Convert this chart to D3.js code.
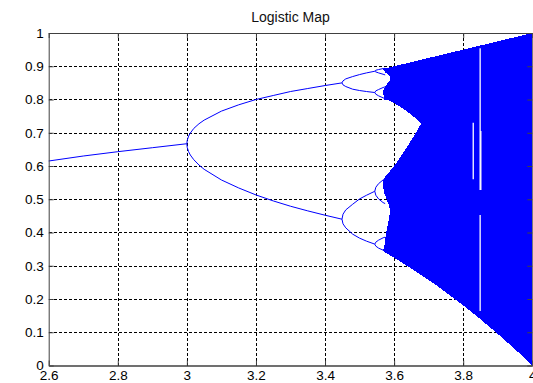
<!DOCTYPE html>
<html><head><meta charset="utf-8">
<script src="https://cdn.jsdelivr.net/npm/d3@7"></script>
<style>
html,body{margin:0;padding:0;background:#fff;}
svg{display:block;font-family:"Liberation Sans",Arial,Helvetica,sans-serif;}
</style></head><body>
<svg id="chart" width="533" height="383"></svg>
<script>
// Tick values
const xTicks = [2.6, 2.8, 3, 3.2, 3.4, 3.6, 3.8, 4];
const yTicks = [0, 0.1, 0.2, 0.3, 0.4, 0.5, 0.6, 0.7, 0.8, 0.9, 1];

// Fixed point branch (r, x)
const r1 = [2.6, 2.7, 2.8, 2.9, 3.0];
const x1 = [0.615, 0.630, 0.643, 0.655, 0.667];

// Period-2 branches
const r2 = [3.0, 3.001, 3.005, 3.01, 3.02, 3.035, 3.05, 3.1, 3.15, 3.2, 3.25, 3.3, 3.35, 3.4, 3.449];
const x2hi = [0.667, 0.677, 0.690, 0.699, 0.713, 0.727, 0.738, 0.765, 0.784, 0.800, 0.812, 0.824, 0.833, 0.842, 0.850];
const x2lo = [0.667, 0.656, 0.643, 0.633, 0.619, 0.603, 0.590, 0.558, 0.534, 0.513, 0.495, 0.479, 0.465, 0.452, 0.440];

// Period-4 branches
const r4 = [3.449, 3.452, 3.46, 3.48, 3.5, 3.52, 3.544];
const x4a = [0.850, 0.856, 0.862, 0.869, 0.875, 0.880, 0.885];
const x4b = [0.850, 0.844, 0.839, 0.831, 0.827, 0.824, 0.821];
const x4c = [0.440, 0.455, 0.468, 0.485, 0.501, 0.512, 0.524];
const x4d = [0.440, 0.426, 0.414, 0.395, 0.383, 0.374, 0.365];

// Period-8 branches
const r8 = [3.544, 3.547, 3.555, 3.568, 3.574];
const x8a = [0.885, 0.888, 0.890, 0.893, 0.894];
const x8b = [0.885, 0.883, 0.880, 0.876, 0.874];
const x8c = [0.821, 0.826, 0.830, 0.836, 0.838];
const x8d = [0.821, 0.816, 0.811, 0.805, 0.803];
const x8e = [0.524, 0.536, 0.547, 0.558, 0.561];
const x8f = [0.524, 0.512, 0.501, 0.490, 0.487];
const x8g = [0.365, 0.371, 0.377, 0.384, 0.386];
const x8h = [0.365, 0.359, 0.353, 0.347, 0.345];

// Chaotic region outline, traced in order
const chaosTop = [[3.567, 0.892], [3.6, 0.900], [3.7, 0.925], [3.8, 0.950], [3.9, 0.975], [4.0, 1.0]];
const chaosBottom = [[4.0, 0.0], [3.975, 0.025], [3.95, 0.049], [3.925, 0.072], [3.9, 0.095], [3.875, 0.117],
  [3.85, 0.139], [3.825, 0.160], [3.8, 0.181], [3.775, 0.200], [3.75, 0.220], [3.725, 0.239], [3.7, 0.257],
  [3.675, 0.274], [3.65, 0.291], [3.625, 0.308], [3.6, 0.324], [3.57, 0.343]];
const lowerBandLeft = [[3.568, 0.344], [3.572, 0.360], [3.574, 0.380], [3.577, 0.400], [3.583, 0.430],
  [3.588, 0.460], [3.586, 0.480], [3.578, 0.500], [3.571, 0.520], [3.567, 0.545], [3.570, 0.562]];
const bandGap = [[3.58, 0.575], [3.6, 0.600], [3.625, 0.637], [3.65, 0.678], [3.665, 0.704], [3.6786, 0.728],
  [3.665, 0.741], [3.65, 0.754], [3.625, 0.773], [3.6, 0.789], [3.58, 0.799]];
const upperBandLeft = [[3.572, 0.800], [3.569, 0.815], [3.569, 0.828], [3.578, 0.845], [3.589, 0.858],
  [3.587, 0.870], [3.574, 0.882], [3.567, 0.892]];

// Periodic windows inside the chaotic region
const windowR = [3.829, 3.849, 3.849, 3.851];
const windowTop = [0.730, 0.954, 0.453, 0.705];
const windowBottom = [0.560, 0.528, 0.164, 0.528];
const windowWidth = [1.3, 1.3, 1.3, 1.3];

const svg = d3.select("#chart");
const x = d3.scaleLinear().domain([2.6, 4]).range([48.7, 532.3]);
const y = d3.scaleLinear().domain([0, 1]).range([365.5, 33]);

// Title
svg.append("text")
  .attr("x", (x.range()[0] + x.range()[1]) / 2)
  .attr("y", 22)
  .attr("text-anchor", "middle")
  .attr("font-size", "14px")
  .attr("fill", "#111")
  .text("Logistic Map");

// Grid
const grid = svg.append("g")
  .attr("stroke", "#000")
  .attr("stroke-width", 1)
  .attr("stroke-dasharray", "3,2")
  .attr("shape-rendering", "crispEdges");
grid.selectAll("line.gx").data(xTicks.slice(1, -1)).join("line")
  .attr("class", "gx")
  .attr("x1", d => Math.round(x(d)) + 0.5).attr("x2", d => Math.round(x(d)) + 0.5)
  .attr("y1", y(1)).attr("y2", y(0));
grid.selectAll("line.gy").data(yTicks.slice(1, -1)).join("line")
  .attr("class", "gy")
  .attr("y1", d => Math.round(y(d)) + 0.5).attr("y2", d => Math.round(y(d)) + 0.5)
  .attr("x1", x(2.6)).attr("x2", x(4));

// Data
const plot = svg.append("g");
const line = d3.line().x(d => x(d[0])).y(d => y(d[1]));

const branches = [
  [r1, x1], [r2, x2hi], [r2, x2lo],
  [r4, x4a], [r4, x4b], [r4, x4c], [r4, x4d],
  [r8, x8a], [r8, x8b], [r8, x8c], [r8, x8d], [r8, x8e], [r8, x8f], [r8, x8g], [r8, x8h]
];
plot.selectAll("path.branch").data(branches).join("path")
  .attr("class", "branch")
  .attr("fill", "none")
  .attr("stroke", "#0000ff")
  .attr("stroke-width", 1)
  .attr("d", d => line(d3.zip(d[0], d[1])));

const outline = [].concat(chaosTop, chaosBottom, lowerBandLeft, bandGap, upperBandLeft);
plot.append("path")
  .attr("fill", "#0000ff")
  .attr("stroke", "none")
  .attr("shape-rendering", "crispEdges")
  .attr("d", line(outline) + "Z");

plot.selectAll("line.window").data(d3.range(windowR.length)).join("line")
  .attr("class", "window")
  .attr("stroke", "#fff")
  .attr("stroke-width", i => windowWidth[i])
  .attr("x1", i => x(windowR[i])).attr("x2", i => x(windowR[i]))
  .attr("y1", i => y(windowTop[i])).attr("y2", i => y(windowBottom[i]));

// Axes (ticks point inward on all four sides)
const fmt = d => String(d);
const axisColor = "#404040";
function styleAxis(g) {
  g.attr("color", axisColor);
  g.selectAll("text").attr("fill", "#000").attr("font-size", "13.5px");
  g.attr("font-family", null);
}
const bottomAxis = svg.append("g").attr("transform", `translate(0,${y(0)})`)
  .call(d3.axisBottom(x).tickValues(xTicks).tickFormat(fmt).tickSize(-5).tickSizeOuter(0).tickPadding(5))
  .call(styleAxis);
bottomAxis.select(".domain").attr("stroke-width", 1.6);
svg.append("g").attr("transform", `translate(0,${y(1)})`)
  .call(d3.axisTop(x).tickValues(xTicks).tickFormat("").tickSize(-5).tickSizeOuter(0))
  .call(styleAxis);
svg.append("g").attr("transform", `translate(${x(2.6)},0)`)
  .call(d3.axisLeft(y).tickValues(yTicks).tickFormat(fmt).tickSize(-5).tickSizeOuter(0).tickPadding(5))
  .call(styleAxis);
svg.append("g").attr("transform", `translate(${x(4)},0)`)
  .call(d3.axisRight(y).tickValues(yTicks).tickFormat("").tickSize(-5).tickSizeOuter(0))
  .call(styleAxis);
</script></body></html>
